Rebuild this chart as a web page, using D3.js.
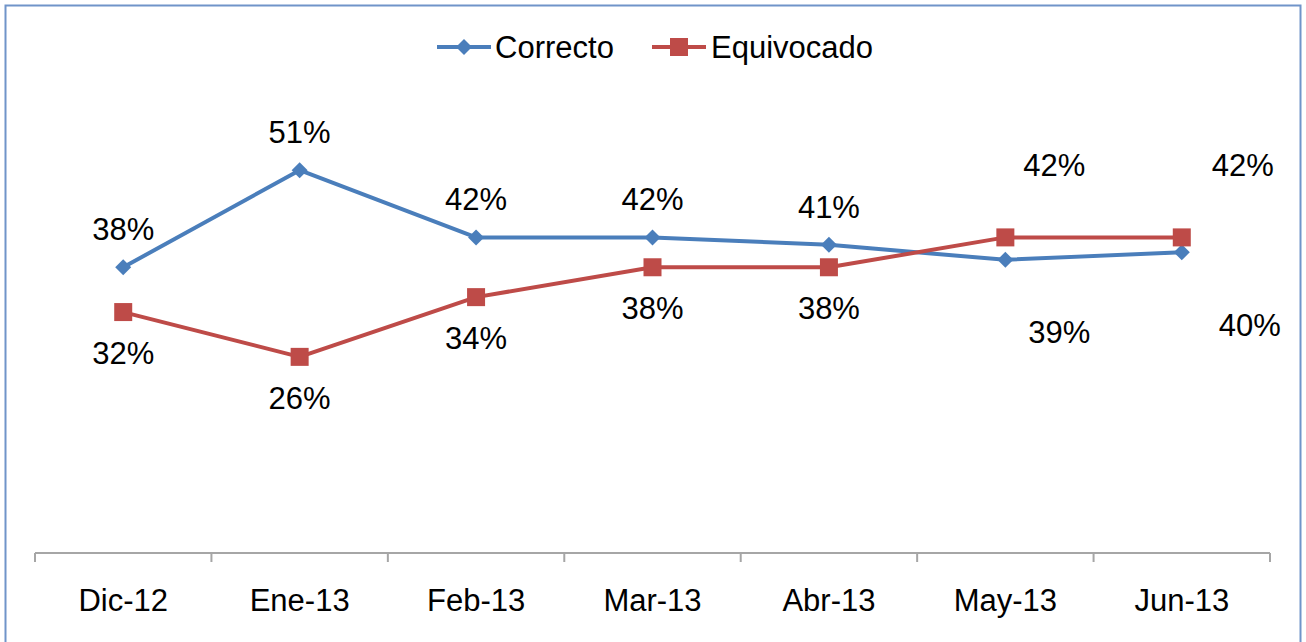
<!DOCTYPE html>
<html>
<head>
<meta charset="utf-8">
<script src="https://cdn.jsdelivr.net/npm/d3@7"></script>
<style>
  html, body { margin: 0; padding: 0; background: #fff; }
  svg { display: block; font-family: Arial, "Liberation Sans", sans-serif; }
</style>
</head>
<body>
<svg id="chart" width="1306" height="642"></svg>
<script>
// chart data
var months = ["Dic-12", "Ene-13", "Feb-13", "Mar-13", "Abr-13", "May-13", "Jun-13"];
var correcto = [38, 51, 42, 42, 41, 39, 40];
var equivocado = [32, 26, 34, 38, 38, 42, 42];
var seriesNames = ["Correcto", "Equivocado"];

var width = 1306, height = 642;
var fontSize = 31;
var svg = d3.select("#chart");

// frame
svg.append("rect")
    .attr("x", 5.5).attr("y", 5.5)
    .attr("width", 1295).attr("height", 660)
    .attr("fill", "none")
    .attr("stroke", "#7094c9")
    .attr("stroke-width", 2);

var x = d3.scaleBand().domain(months).range([35, 1270]);
var y = d3.scaleLinear().domain([0, 60]).range([551, 103]);

// x axis
var xAxis = svg.append("g")
    .attr("transform", "translate(0,553)")
    .call(d3.axisBottom(x).tickSize(0).tickPadding(0));
xAxis.select(".domain").attr("stroke", "#a6a6a6").attr("stroke-width", 2)
    .attr("d", "M35,0H1270");
xAxis.selectAll(".tick text")
    .attr("y", 47).attr("dy", "0.35em")
    .attr("font-size", fontSize).attr("fill", "#000")
    .attr("font-family", "Arial, 'Liberation Sans', sans-serif");
// tick marks on band boundaries
var bounds = months.map(m => x(m)).concat([x.range()[1]]);
xAxis.selectAll(".bound")
    .data(bounds)
    .enter().append("line")
    .attr("class", "bound")
    .attr("x1", d => d).attr("x2", d => d)
    .attr("y1", 0).attr("y2", 9)
    .attr("stroke", "#a6a6a6").attr("stroke-width", 2);

var cx = d => x(d) + x.bandwidth() / 2;

var series = [
    { name: seriesNames[0], values: correcto, color: "#4a7ebb", marker: "diamond",
      dy: -38, nudge: { 5: [54, 72], 6: [68, 73] } },
    { name: seriesNames[1], values: equivocado, color: "#be4b48", marker: "square",
      dy: 41, nudge: { 5: [49, -72], 6: [61, -72] } }
];

function drawMarker(g, type, color) {
    if (type === "diamond") {
        g.append("path").attr("d", "M0,-8L8,0L0,8L-8,0Z").attr("fill", color);
    } else {
        g.append("rect").attr("x", -9).attr("y", -9).attr("width", 18).attr("height", 18).attr("fill", color);
    }
}

var line = d3.line().x((d, i) => cx(months[i])).y(d => y(d));

series.forEach(function (s) {
    svg.append("path")
        .datum(s.values)
        .attr("d", line)
        .attr("fill", "none")
        .attr("stroke", s.color)
        .attr("stroke-width", 4)
        .attr("stroke-linejoin", "round");
});

series.forEach(function (s) {
    s.values.forEach(function (v, i) {
        var g = svg.append("g").attr("transform", `translate(${cx(months[i])},${y(v)})`);
        drawMarker(g, s.marker, s.color);
    });
});

series.forEach(function (s) {
    svg.append("g").selectAll("text")
        .data(s.values)
        .enter().append("text")
        .attr("x", (d, i) => cx(months[i]) + (s.nudge[i] ? s.nudge[i][0] : 0))
        .attr("y", (d, i) => y(d) + (s.nudge[i] ? s.nudge[i][1] : s.dy))
        .attr("dy", "0.35em")
        .attr("text-anchor", "middle")
        .attr("font-size", fontSize)
        .attr("fill", "#000")
        .text(d => d + "%");
});

// legend
var legend = svg.append("g");
var legendItems = [
    { s: series[0], x0: 437, tx: 495 },
    { s: series[1], x0: 652, tx: 711 }
];
legendItems.forEach(function (it) {
    legend.append("line")
        .attr("x1", it.x0).attr("x2", it.x0 + 54)
        .attr("y1", 47).attr("y2", 47)
        .attr("stroke", it.s.color).attr("stroke-width", 4);
    var g = legend.append("g").attr("transform", `translate(${it.x0 + 27},47)`);
    drawMarker(g, it.s.marker, it.s.color);
    legend.append("text")
        .attr("x", it.tx).attr("y", 47).attr("dy", "0.35em")
        .attr("font-size", fontSize).attr("fill", "#000")
        .text(it.s.name);
});
</script>
</body>
</html>
